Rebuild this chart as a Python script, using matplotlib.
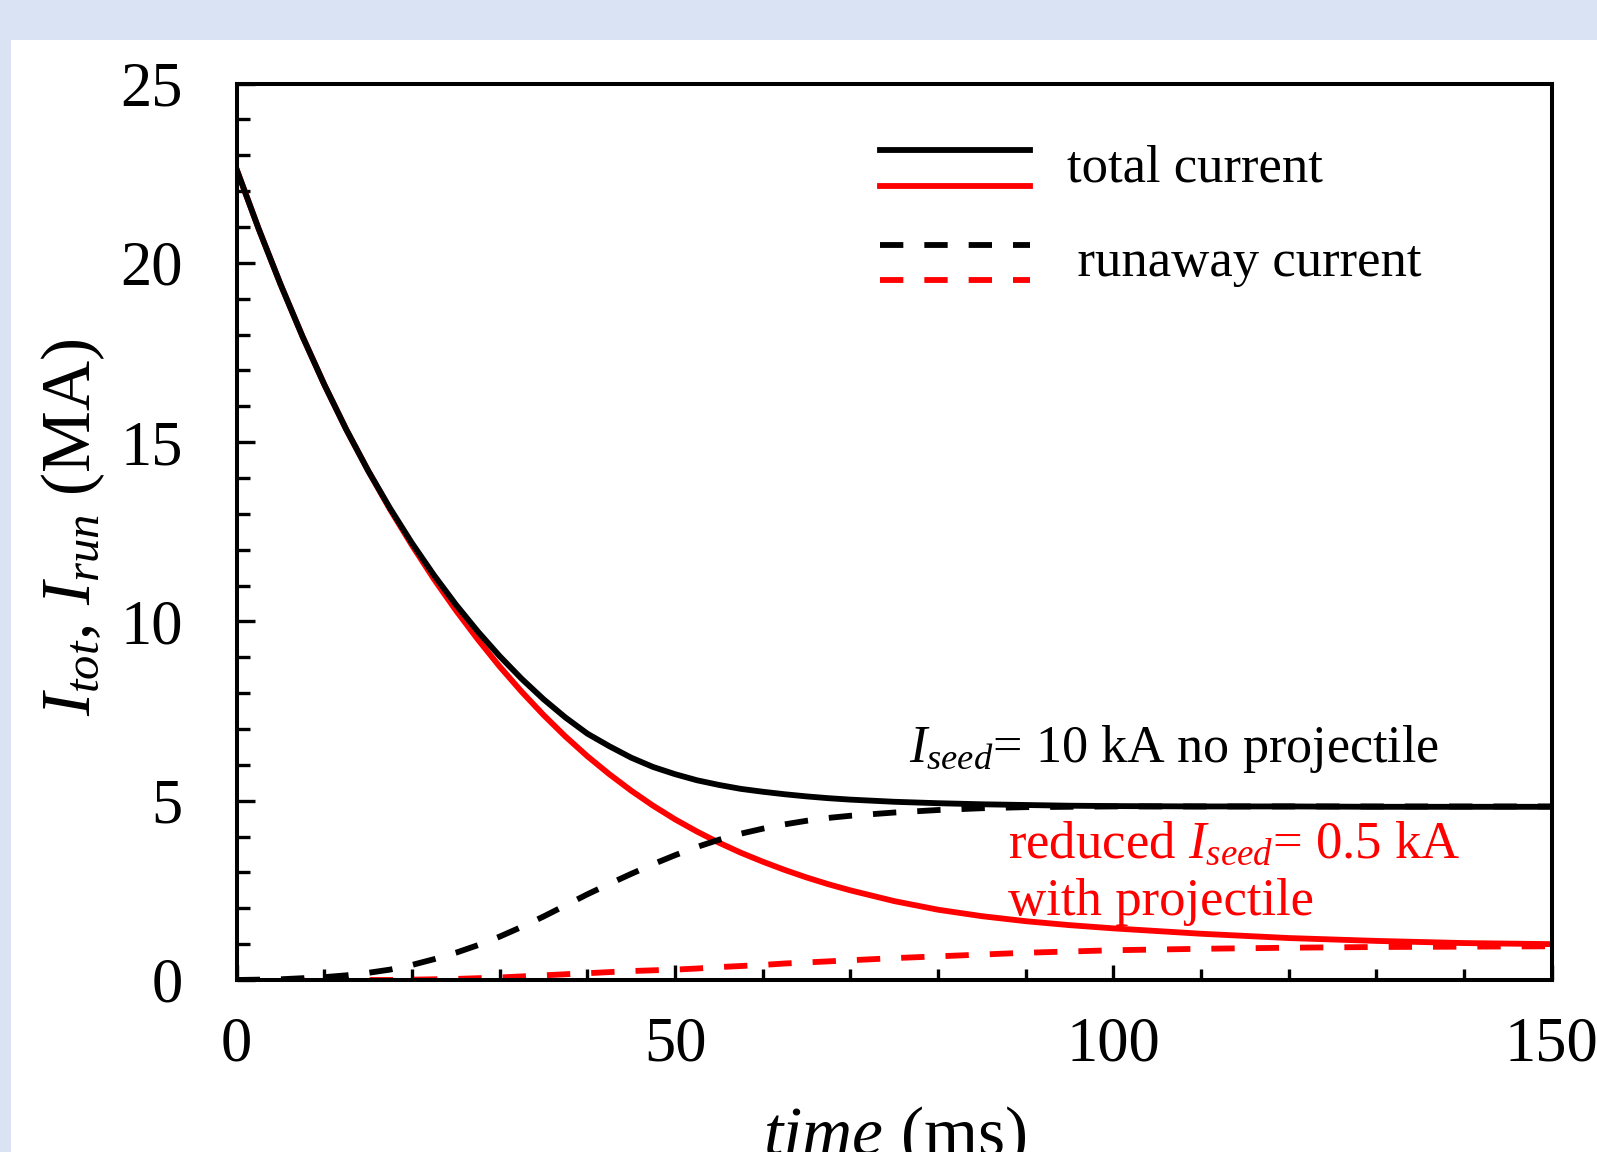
import matplotlib
matplotlib.use("Agg")
import matplotlib.pyplot as plt
from matplotlib.lines import Line2D
from matplotlib.patches import Rectangle
from matplotlib.legend_handler import HandlerBase
from matplotlib.ticker import MultipleLocator

# ---------------- data ----------------
t_total = [0, 2.5, 5, 7.5, 10, 12.5, 15, 17.5, 20, 22.5, 25, 27.5, 30, 32.5, 35,
           37.5, 40, 42.5, 45, 47.5, 50, 52.5, 55, 57.5, 60, 62.5, 65, 67.5, 70,
           75, 80, 85, 90, 95, 100, 110, 120, 130, 140, 150]
I_tot_nopro = [22.6, 20.95, 19.4, 17.95, 16.6, 15.35, 14.2, 13.15, 12.18, 11.29,
               10.47, 9.72, 9.03, 8.4, 7.83, 7.32, 6.87, 6.52, 6.2, 5.94, 5.74,
               5.57, 5.44, 5.33, 5.25, 5.18, 5.12, 5.07, 5.03, 4.97, 4.93, 4.9,
               4.88, 4.86, 4.85, 4.84, 4.84, 4.83, 4.83, 4.83]
I_tot_proj = [22.6, 20.95, 19.4, 17.95, 16.6, 15.35, 14.2, 13.12, 12.12, 11.18,
              10.31, 9.5, 8.74, 8.04, 7.39, 6.79, 6.24, 5.74, 5.28, 4.86, 4.48,
              4.14, 3.83, 3.55, 3.3, 3.07, 2.86, 2.67, 2.5, 2.2, 1.96, 1.78,
              1.64, 1.53, 1.44, 1.29, 1.17, 1.09, 1.03, 1.0]

t_run = [0, 5, 10, 12.5, 15, 17.5, 20, 22.5, 25, 27.5, 30, 32.5, 35, 37.5, 40,
         42.5, 45, 47.5, 50, 52.5, 55, 57.5, 60, 62.5, 65, 67.5, 70, 75, 80, 85,
         90, 100, 110, 120, 130, 140, 150]
I_run_nopro = [0, 0.02, 0.08, 0.13, 0.2, 0.29, 0.42, 0.58, 0.76, 0.97, 1.21,
               1.48, 1.77, 2.08, 2.39, 2.68, 2.96, 3.23, 3.48, 3.71, 3.91, 4.08,
               4.22, 4.34, 4.44, 4.52, 4.58, 4.67, 4.74, 4.79, 4.82, 4.84, 4.84,
               4.84, 4.84, 4.84, 4.84]
I_run_proj = [0, 0, 0, 0, 0, 0, 0.01, 0.02, 0.03, 0.05, 0.07, 0.1, 0.13, 0.16,
              0.19, 0.22, 0.25, 0.27, 0.29, 0.32, 0.36, 0.39, 0.42, 0.46, 0.49,
              0.52, 0.55, 0.61, 0.66, 0.71, 0.76, 0.83, 0.87, 0.9, 0.92, 0.93, 0.94]

legend_labels = ["total current", "\u2009runaway current"]
label_black = r"$I_{seed}$= 10 kA no projectile"
label_red1 = r"reduced $I_{seed}$= 0.5 kA"
label_red2 = "with projectile"

# ---------------- style ----------------
plt.rcParams["font.family"] = ["Liberation Serif", "DejaVu Serif"]
plt.rcParams["mathtext.fontset"] = "custom"
plt.rcParams["mathtext.rm"] = "Liberation Serif"
plt.rcParams["mathtext.it"] = "Liberation Serif:italic"
plt.rcParams["mathtext.bf"] = "Liberation Serif:bold"

W, H = 1597, 1152
fig = plt.figure(figsize=(W / 100, H / 100), dpi=100, facecolor="#dae3f3")
fig.add_artist(Rectangle((11 / W, 0), 1 - 11 / W, (H - 40) / H,
                         transform=fig.transFigure, facecolor="white",
                         edgecolor="none", zorder=-5))

ax = fig.add_axes([236.7 / W, (H - 980) / H, (1551.7 - 236.7) / W,
                   (980 - 83.5) / H])
ax.set_facecolor("white")

lw = 4.2
dash = (0, (4.0, 3.6))
l1, = ax.plot(t_total, I_tot_nopro, color="black", lw=lw, zorder=4)
l2, = ax.plot(t_total, I_tot_proj, color="red", lw=lw, zorder=3)
l3, = ax.plot(t_run, I_run_nopro, color="black", lw=lw, linestyle=dash, zorder=4)
l4, = ax.plot(t_run, I_run_proj, color="red", lw=lw, linestyle=dash, zorder=3)

ax.set_xlim(0, 150)
ax.set_ylim(0, 25)
ax.xaxis.set_major_locator(MultipleLocator(50))
ax.xaxis.set_minor_locator(MultipleLocator(10))
ax.yaxis.set_major_locator(MultipleLocator(5))
ax.yaxis.set_minor_locator(MultipleLocator(1))

for s in ax.spines.values():
    s.set_linewidth(2.9)
    s.set_zorder(5)
ax.tick_params(axis="both", which="both", direction="in", top=False,
               right=False, width=2.4, labelsize=45)
ax.tick_params(axis="y", which="major", length=13, pad=38.7)
ax.tick_params(axis="y", which="minor", length=9)
ax.tick_params(axis="x", which="major", length=11, pad=26)
ax.tick_params(axis="x", which="minor", length=8)

ax.set_ylabel(r"$I_{tot}$, $I_{run}$ (MA)", fontsize=50)
ax.set_xlabel(r"$time$ (ms)", fontsize=50)
ax.yaxis.set_label_coords(-0.099, 0.505)
ax.xaxis.set_label_coords(0.5, -0.138)

ax.text(76.7, 6.08, label_black, fontsize=37.5, color="black", va="baseline",
        ha="left", zorder=6)
ax.text(88.0, 3.42, label_red1, fontsize=38, color="red", va="baseline",
        ha="left", zorder=6)
ax.text(88.0, 1.82, label_red2, fontsize=38, color="red", va="baseline",
        ha="left", zorder=6)


class HandlerStack(HandlerBase):
    def __init__(self, gap, shift=0.0, **kw):
        super().__init__(**kw)
        self.gap = gap
        self.shift = shift

    def create_artists(self, legend, orig_handle, xdescent, ydescent, width,
                       height, fontsize, trans):
        arts = []
        n = len(orig_handle)
        yc = (height - ydescent) / 2.0 - self.shift
        for i, h in enumerate(orig_handle):
            y = yc + ((n - 1) / 2.0 - i) * self.gap
            ln = Line2D([-xdescent, width - xdescent], [y, y])
            ln.update_from(h)
            ln.set_transform(trans)
            arts.append(ln)
        return arts


leg = ax.legend([(l1, l2), (l3, l4)], legend_labels,
                handler_map={tuple: HandlerStack(gap=25.5, shift=4.5)},
                loc="upper left", bbox_to_anchor=(0.489, 0.934),
                frameon=False, fontsize=38, handlelength=2.84,
                handleheight=0.8, handletextpad=0.7, labelspacing=0.85,
                borderpad=0, borderaxespad=0)

fig.savefig("out.png", dpi=100, facecolor=fig.get_facecolor())
